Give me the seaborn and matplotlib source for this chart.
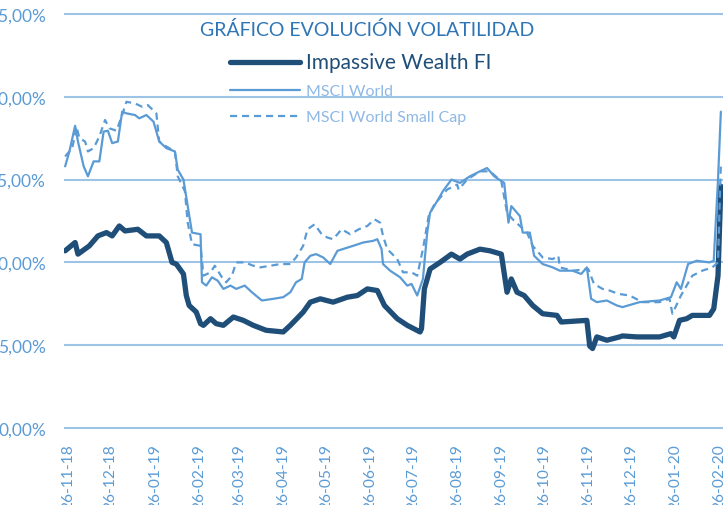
import numpy as np
import pandas as pd
import seaborn as sns
import matplotlib
matplotlib.use('Agg')
from matplotlib import pyplot as plt
import matplotlib.dates as mdates

"""
DATOS (volatilidad anualizada, %)
"""

fechas_iw = ['2018-11-24', '2018-12-01', '2018-12-03', '2018-12-11', '2018-12-17', '2018-12-23',
             '2018-12-27', '2019-01-01', '2019-01-05', '2019-01-14', '2019-01-20', '2019-01-29',
             '2019-02-03', '2019-02-07', '2019-02-10', '2019-02-15', '2019-02-17', '2019-02-19',
             '2019-02-24', '2019-02-27', '2019-03-01', '2019-03-06', '2019-03-10', '2019-03-15',
             '2019-03-22', '2019-03-29', '2019-04-05', '2019-04-14', '2019-04-26', '2019-05-01',
             '2019-05-10', '2019-05-15', '2019-05-22', '2019-05-31', '2019-06-10', '2019-06-17',
             '2019-06-24', '2019-07-01', '2019-07-06', '2019-07-15', '2019-07-22', '2019-07-31',
             '2019-08-01', '2019-08-03', '2019-08-07', '2019-08-14', '2019-08-22', '2019-08-28',
             '2019-09-02', '2019-09-11', '2019-09-18', '2019-09-26', '2019-09-30', '2019-10-03',
             '2019-10-07', '2019-10-12', '2019-10-18', '2019-10-25', '2019-11-04', '2019-11-07',
             '2019-11-25', '2019-11-27', '2019-11-29', '2019-12-02', '2019-12-09', '2019-12-18',
             '2019-12-20', '2019-12-30', '2020-01-15', '2020-01-23', '2020-01-25', '2020-01-29',
             '2020-02-03', '2020-02-07', '2020-02-19', '2020-02-22', '2020-02-25', '2020-02-27']
vol_iw = [10.7, 11.2, 10.5, 11.0, 11.6, 11.8,
          11.6, 12.2, 11.9, 12.0, 11.6, 11.6,
          11.2, 10.0, 9.9, 9.3, 8.0, 7.4,
          7.0, 6.3, 6.2, 6.6, 6.3, 6.2,
          6.7, 6.5, 6.2, 5.9, 5.8, 6.2,
          7.0, 7.6, 7.8, 7.6, 7.9, 8.0,
          8.4, 8.3, 7.4, 6.6, 6.2, 5.8,
          6.0, 8.4, 9.6, 10.0, 10.5, 10.2,
          10.5, 10.8, 10.7, 10.5, 8.2, 9.0,
          8.2, 8.0, 7.4, 6.9, 6.8, 6.4,
          6.5, 4.95, 4.8, 5.5, 5.3, 5.5,
          5.56, 5.5, 5.5, 5.7, 5.5, 6.5,
          6.6, 6.8, 6.8, 7.2, 9.2, 14.6]

fechas_msci = ['2018-11-24', '2018-11-27', '2018-12-01', '2018-12-03', '2018-12-07', '2018-12-10',
               '2018-12-14', '2018-12-18', '2018-12-21', '2018-12-24', '2018-12-27', '2018-12-31',
               '2019-01-03', '2019-01-06', '2019-01-12', '2019-01-15', '2019-01-20', '2019-01-25',
               '2019-01-29', '2019-02-03', '2019-02-09', '2019-02-11', '2019-02-15', '2019-02-18',
               '2019-02-21', '2019-02-27', '2019-02-28', '2019-03-03', '2019-03-07', '2019-03-11',
               '2019-03-15', '2019-03-20', '2019-03-24', '2019-03-30', '2019-04-04', '2019-04-11',
               '2019-04-19', '2019-04-26', '2019-05-01', '2019-05-05', '2019-05-09', '2019-05-11',
               '2019-05-15', '2019-05-19', '2019-05-24', '2019-05-29', '2019-06-03', '2019-06-14',
               '2019-06-21', '2019-06-28', '2019-07-01', '2019-07-04', '2019-07-05', '2019-07-10',
               '2019-07-17', '2019-07-22', '2019-07-25', '2019-07-29', '2019-08-02', '2019-08-05',
               '2019-08-07', '2019-08-12', '2019-08-16', '2019-08-22', '2019-08-28', '2019-09-04',
               '2019-09-11', '2019-09-16', '2019-09-21', '2019-09-28', '2019-10-01', '2019-10-03',
               '2019-10-09', '2019-10-11', '2019-10-16', '2019-10-19', '2019-10-25', '2019-11-01',
               '2019-11-06', '2019-11-15', '2019-11-21', '2019-11-25', '2019-11-28', '2019-12-02',
               '2019-12-09', '2019-12-16', '2019-12-20', '2020-01-01', '2020-01-15', '2020-01-23',
               '2020-01-27', '2020-01-30', '2020-02-04', '2020-02-10', '2020-02-19', '2020-02-22',
               '2020-02-25', '2020-02-27']
vol_msci = [15.8, 16.7, 18.25, 17.3, 15.8, 15.2,
            16.1, 16.1, 17.9, 17.95, 17.2, 17.3,
            19.1, 19.0, 18.9, 18.7, 18.9, 18.5,
            17.3, 16.9, 16.7, 15.6, 15.0, 13.4,
            11.8, 11.7, 8.8, 8.6, 9.1, 8.9,
            8.4, 8.6, 8.4, 8.6, 8.2, 7.7,
            7.8, 7.9, 8.2, 8.8, 9.0, 10.0,
            10.4, 10.5, 10.3, 9.9, 10.7, 11.0,
            11.2, 11.3, 11.4, 10.8, 9.9, 9.5,
            9.1, 8.6, 8.7, 8.0, 9.0, 11.8,
            13.0, 13.7, 14.3, 15.0, 14.8, 15.2,
            15.5, 15.7, 15.2, 14.8, 12.4, 13.4,
            12.8, 11.8, 11.8, 10.4, 9.9, 9.7,
            9.5, 9.5, 9.3, 9.7, 7.8, 7.6,
            7.7, 7.4, 7.3, 7.6, 7.7, 7.9,
            8.8, 8.4, 9.9, 10.1, 10.0, 10.1,
            15.0, 19.1]

fechas_small = ['2018-11-24', '2018-11-29', '2018-12-02', '2018-12-04', '2018-12-08', '2018-12-10',
                '2018-12-14', '2018-12-18', '2018-12-22', '2018-12-25', '2018-12-30', '2019-01-03',
                '2019-01-06', '2019-01-12', '2019-01-17', '2019-01-21', '2019-01-27', '2019-01-29',
                '2019-02-03', '2019-02-09', '2019-02-11', '2019-02-16', '2019-02-18', '2019-02-21',
                '2019-02-27', '2019-03-01', '2019-03-06', '2019-03-09', '2019-03-14', '2019-03-17',
                '2019-03-21', '2019-03-24', '2019-03-30', '2019-04-05', '2019-04-10', '2019-04-17',
                '2019-04-24', '2019-05-01', '2019-05-05', '2019-05-10', '2019-05-13', '2019-05-18',
                '2019-05-23', '2019-05-27', '2019-05-31', '2019-06-06', '2019-06-12', '2019-06-18',
                '2019-06-24', '2019-06-29', '2019-07-03', '2019-07-05', '2019-07-08', '2019-07-15',
                '2019-07-19', '2019-07-25', '2019-07-29', '2019-08-02', '2019-08-06', '2019-08-10',
                '2019-08-15', '2019-08-19', '2019-08-26', '2019-08-27', '2019-09-02', '2019-09-11',
                '2019-09-18', '2019-09-26', '2019-09-30', '2019-10-04', '2019-10-09', '2019-10-14',
                '2019-10-18', '2019-10-25', '2019-11-01', '2019-11-05', '2019-11-06', '2019-11-15',
                '2019-11-26', '2019-11-30', '2019-12-06', '2019-12-11', '2019-12-17', '2019-12-25',
                '2020-01-03', '2020-01-15', '2020-01-22', '2020-01-24', '2020-01-30', '2020-02-03',
                '2020-02-07', '2020-02-14', '2020-02-21', '2020-02-25', '2020-02-27']
vol_small = [16.4, 16.9, 18.2, 17.5, 17.3, 16.7,
             16.9, 17.6, 18.6, 18.1, 17.95, 18.9,
             19.7, 19.6, 19.4, 19.5, 19.0, 17.3,
             17.0, 16.7, 15.2, 14.3, 12.4, 11.1,
             11.0, 9.2, 9.4, 9.8, 9.1, 8.8,
             9.2, 10.0, 10.0, 9.8, 9.7, 9.8,
             9.9, 9.9, 10.3, 11.0, 12.0, 12.3,
             11.7, 11.5, 11.4, 12.0, 11.7, 12.0,
             12.2, 12.6, 12.4, 11.6, 10.8, 10.2,
             9.4, 9.4, 9.2, 10.8, 12.8, 13.5,
             14.0, 14.4, 14.7, 14.4, 15.0, 15.5,
             15.5, 14.9, 13.0, 12.6, 12.2, 11.8,
             11.0, 10.3, 10.2, 10.4, 9.7, 9.5,
             9.6, 8.7, 8.4, 8.3, 8.1, 8.0,
             7.6, 7.6, 7.8, 6.9, 8.0, 8.6,
             9.2, 9.5, 9.7, 10.0, 16.0]

y_ticks = [0, 5, 10, 15, 20, 25]

OSCURO = '#1F4E79'
CLARO = '#5B9BD5'
REJILLA = '#9DC3E6'

sns.set_style('white')
plt.rcParams['font.family'] = ['Lato', 'DejaVu Sans']

fig = plt.figure(figsize=(7.23, 5.06), dpi=100)
# y: 0% -> 429 px, 25% -> 15 px ; x: 23-11-18 -> 64 px
px_pct = (429 - 15) / 25.0
bot = 429 + 0.15 * px_pct
top = 15 - 0.15 * px_pct
ax = fig.add_axes([64 / 723, 1 - bot / 506, 1 - 64 / 723, (bot - top) / 506])

sns.lineplot(x=pd.to_datetime(fechas_iw), y=vol_iw, color=OSCURO, linewidth=3.8,
             label='Impassive Wealth FI', ax=ax)
sns.lineplot(x=pd.to_datetime(fechas_msci), y=vol_msci, color=CLARO, linewidth=1.6,
             label='MSCI World', ax=ax)
sns.lineplot(x=pd.to_datetime(fechas_small), y=vol_small, color=CLARO, linewidth=1.6,
             linestyle='--', label='MSCI World Small Cap', ax=ax)
ax.lines[-1].set_dashes((3.2, 2.2))

ax.set_ylim(-0.15, 25.15)
ax.set_xlim(pd.Timestamp('2018-11-23 05:00'), pd.Timestamp('2020-02-28 12:00'))
ax.set_yticks(y_ticks)
ax.set_yticklabels([f'{v},00%' for v in y_ticks])
ax.xaxis.set_major_locator(mdates.MonthLocator(bymonthday=26))
ax.xaxis.set_major_formatter(mdates.DateFormatter('%d-%m-%y'))
ax.tick_params(axis='x', rotation=90, length=0, pad=9, labelsize=11.2, labelcolor=CLARO)
ax.tick_params(axis='y', length=0, pad=13, labelsize=12.5, labelcolor=CLARO)
ax.set_xlabel('')
ax.set_ylabel('')
ax.yaxis.grid(True, color=REJILLA, linewidth=1.5)
ax.xaxis.grid(False)
ax.set_axisbelow(True)
sns.despine(ax=ax, left=True, bottom=True)

leg = ax.legend(loc='upper left', bbox_to_anchor=(230 / 723, 1 - 53 / 506),
                bbox_transform=fig.transFigure, frameon=False, fontsize=11.5,
                handlelength=4.4, handletextpad=0.35, labelspacing=0.75,
                borderpad=0, borderaxespad=0)
txt = leg.get_texts()
txt[0].set_fontsize(15)
txt[0].set_color(OSCURO)
txt[1].set_color('#8EB8E5')
txt[2].set_color('#8EB8E5')

fig.text(367 / 723, 1 - 30 / 506, 'GRÁFICO EVOLUCIÓN VOLATILIDAD', ha='center', va='center',
         fontsize=14, color='#2E75B6')

fig.savefig('out.png', dpi=100)
